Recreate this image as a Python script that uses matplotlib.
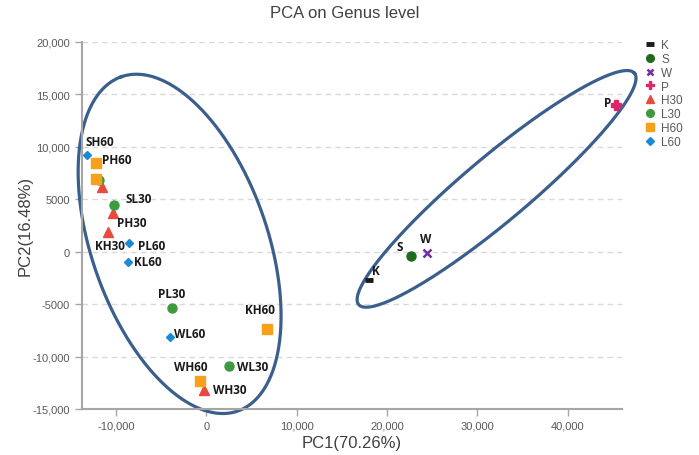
import numpy as np
import matplotlib.pyplot as plt

# ---- data ----
groups = ["K", "S", "W", "P", "H30", "L30", "H60", "L60"]

k_x, k_y = [18040], [-2700]
s_x, s_y = [22620], [-380]
w_x, w_y = [24460], [-120]
p_x, p_y = [45350], [13980]

h30_x = [-11580, -10290, -10910, -250]
h30_y = [6140, 3660, 1910, -13150]
h30_lab = ["", "PH30", "KH30", "WH30"]

l30_x = [-11910, -10180, -3830, 2480]
l30_y = [6830, 4450, -5370, -10920]
l30_lab = ["", "SL30", "PL30", "WL30"]

h60_x = [-12240, -12240, 6680, -730]
h60_y = [8420, 6900, -7370, -12350]
h60_lab = ["PH60", "", "KH60", "WH60"]

l60_x = [-13170, -8520, -8700, -4020]
l60_y = [9220, 830, -980, -8160]
l60_lab = ["SH60", "PL60", "KL60", "WL60"]

x_ticks = [-10000, 0, 10000, 20000, 30000, 40000]
x_tick_labels = ["-10,000", "0", "10,000", "20,000", "30,000", "40,000"]
y_ticks = [-15000, -10000, -5000, 0, 5000, 10000, 15000, 20000]
y_tick_labels = ["-15,000", "-10,000", "-5000", "0", "5000", "10,000", "15,000", "20,000"]

# label offsets in pixels (dx, dy) relative to the point
label_off = {
    "SH60": (-2, 13), "PH60": (6, 4), "SL30": (11, 6), "PH30": (4, -9),
    "KH30": (-13, -14), "PL60": (9, -3), "KL60": (6, 0), "PL30": (-14, 14),
    "WL60": (4, 4), "KH60": (-22, 19), "WH60": (-26, 15), "WL30": (8, 0),
    "WH30": (9, 0), "K": (3, 9), "S": (-14, 9), "W": (-7, 14), "P": (-12, 2),
}

# ---- figure ----
fig = plt.figure(figsize=(6.99, 4.56), dpi=100)
ax = fig.add_axes([82 / 699, (456 - 410) / 456, 540 / 699, 367.3 / 456])
ax.set_xlim(-13750, 46000)
ax.set_ylim(-15000, 20000)

for y in y_ticks[1:]:
    ax.axhline(y, color="#d9d9d9", lw=1, ls=(0, (4, 3)), zorder=0)

series = [
    (k_x, k_y, "_", "#1a1a1a", 6, 3.5, "K"),
    (s_x, s_y, "o", "#1e6b1e", 6.5, 1, "S"),
    (w_x, w_y, "x", "#7030a0", 5.5, 1.8, "W"),
    (p_x, p_y, "P", "#e0246a", 7, 1, "P"),
    (h30_x, h30_y, "^", "#e84a3c", 6.5, 1, "H30"),
    (l30_x, l30_y, "o", "#3e9a3e", 6.5, 1, "L30"),
    (h60_x, h60_y, "s", "#f7a11a", 6.5, 1, "H60"),
    (l60_x, l60_y, "D", "#1b8ad4", 4.5, 1, "L60"),
]

handles = []
for xs, ys, mk, col, ms, mew, name in series:
    h, = ax.plot(xs, ys, ls="none", marker=mk, color=col, ms=ms,
                 mew=mew, mec=col, label=name, zorder=3)
    handles.append(h)

label_pts = [("K", k_x[0], k_y[0]), ("S", s_x[0], s_y[0]),
             ("W", w_x[0], w_y[0]), ("P", p_x[0], p_y[0])]
for xs, ys, labs in [(h30_x, h30_y, h30_lab), (l30_x, l30_y, l30_lab),
                     (h60_x, h60_y, h60_lab), (l60_x, l60_y, l60_lab)]:
    label_pts += [(lab, x, y) for x, y, lab in zip(xs, ys, labs) if lab]

for lab, x, y in label_pts:
    dx, dy = label_off[lab]
    ax.annotate(lab, (x, y), xytext=(dx, dy), textcoords="offset pixels",
                ha="left", va="center", fontsize=8.5, fontweight="bold",
                color="#1a1a1a", family="Open Sans")


# ellipses: centre in data units, semi-axes in pixels, angle in screen degrees
def draw_ellipse(cx, cy, a, b, ang):
    fig.canvas.draw()
    px_x = ax.bbox.width / (ax.get_xlim()[1] - ax.get_xlim()[0])
    px_y = ax.bbox.height / (ax.get_ylim()[1] - ax.get_ylim()[0])
    t = np.linspace(0, 2 * np.pi, 400)
    th = np.deg2rad(ang)
    ex = a * np.cos(t) * np.cos(th) - b * np.sin(t) * np.sin(th)
    ey = a * np.cos(t) * np.sin(th) + b * np.sin(t) * np.cos(th)
    ax.plot(cx + ex / px_x, cy + ey / px_y, color="#3b5f8c", lw=2.3,
            zorder=2, clip_on=False)


draw_ellipse(-2950, 735, 177, 88, 109.2)
draw_ellipse(32120, 5975, 180, 32.5, 40)

# axes styling
for side in ["top", "right"]:
    ax.spines[side].set_visible(False)
for side in ["left", "bottom"]:
    ax.spines[side].set_color("#a6a6a6")
    ax.spines[side].set_linewidth(1.5)

ax.set_xticks(x_ticks)
ax.set_xticklabels(x_tick_labels)
ax.set_yticks(y_ticks)
ax.set_yticklabels(y_tick_labels)
ax.tick_params(axis="both", direction="out", length=5, width=1,
               color="#a6a6a6", labelsize=8, labelcolor="#595959")
for lbl in ax.get_xticklabels() + ax.get_yticklabels():
    lbl.set_family("Liberation Sans")

ax.set_xlabel("PC1(70.26%)", fontsize=12, color="#404040",
              family="Liberation Sans", labelpad=3)
ax.set_ylabel("PC2(16.48%)", fontsize=12, color="#404040",
              family="Liberation Sans", labelpad=0)
fig.text(345 / 699, 1 - 13 / 456, "PCA on Genus level", ha="center",
         va="center", fontsize=12, color="#404040", family="Liberation Sans")

leg = fig.legend(handles, groups, loc="upper left",
                 bbox_to_anchor=(639 / 699, 1 - 34 / 456), frameon=False,
                 handlelength=0.8, handletextpad=0.6, markerscale=0.85,
                 labelspacing=0.16, borderpad=0,
                 prop={"family": "Liberation Sans", "size": 8.5})
for t in leg.get_texts():
    t.set_color("#595959")

fig.savefig("out.png", dpi=100)
